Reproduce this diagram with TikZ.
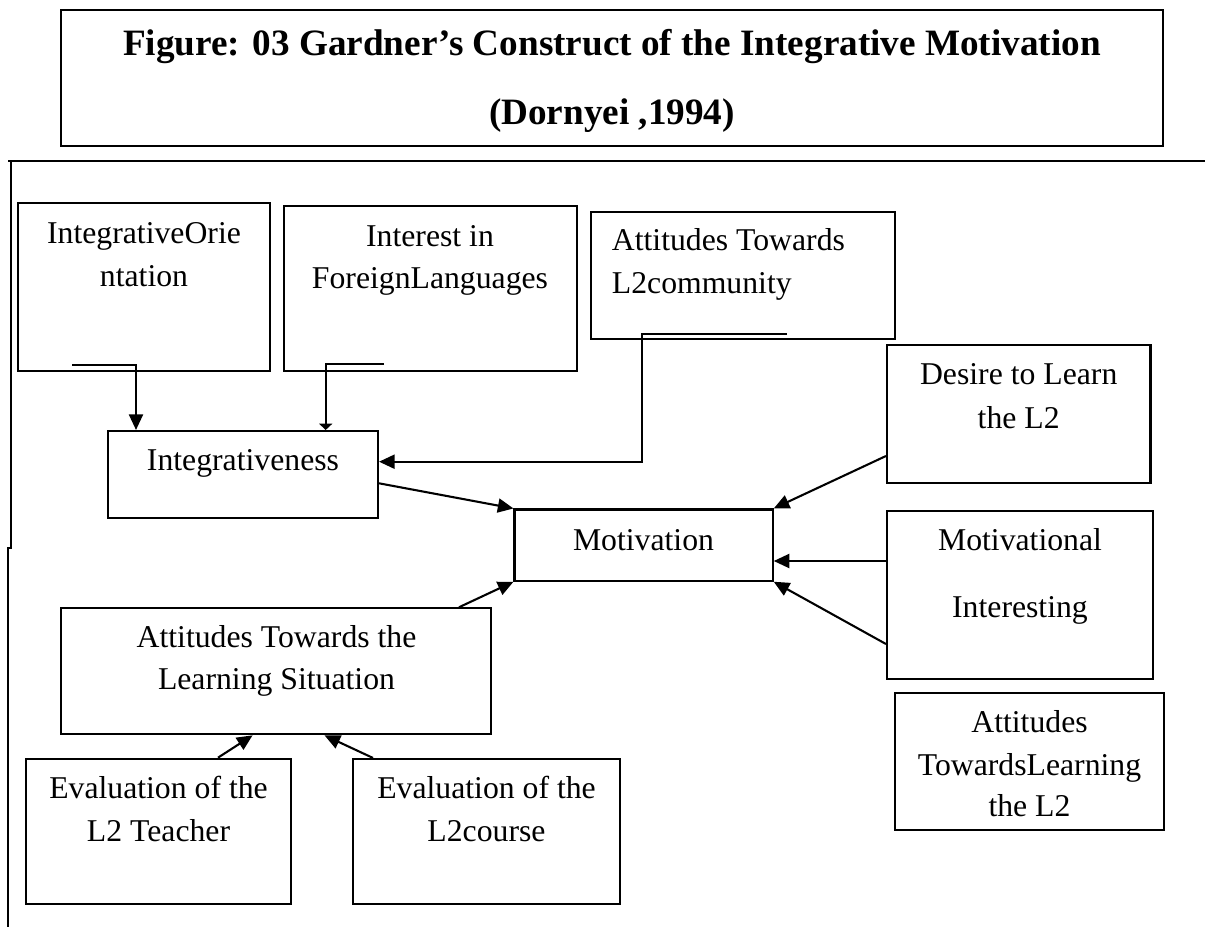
\documentclass[tikz,border=0pt]{standalone}
\usepackage{fontspec}
\setmainfont{Liberation Serif}
\usetikzlibrary{arrows.meta,fit,calc}
\tikzset{
  boxnode/.style={draw, line width=0.8pt, rectangle, inner sep=0pt, minimum size=0pt},
  titlebox/.style={boxnode, line width=0.9pt},
  txt/.style={inner sep=0pt, anchor=base, font=\fontsize{12.2}{14}\selectfont},
  txtl/.style={txt, anchor=base west},
  ttl/.style={inner sep=0pt, anchor=base, font=\fontsize{14.3}{17}\selectfont\bfseries},
  arr/.style={line width=0.8pt, -{Triangle[length=6pt,width=5.4pt]}},
  flatarr/.style={line width=0.8pt, -{Triangle[length=2.4pt,width=5pt]}},
  frame/.style={line width=0.8pt}
}
\begin{document}
\begin{tikzpicture}[x=0.3846pt,y=-0.3846pt]
\useasboundingbox (0,0) rectangle (1205,927);
% title
\node[titlebox, fit={(61,10) (1163,145.7)}] (title) {};
\node[ttl] (title1) at (612,55) {Figure: 03 Gardner’s Construct of the Integrative Motivation};
\node[ttl] (title2) at (612,124) {(Dornyei ,1994)};
% frame lines
\draw[frame] (8.4,160.7) -- (1205,160.7);
\draw[frame] (11,160.7) -- (11,548) -- (8.3,548) -- (8.3,927);
% boxes
\node[boxnode, fit={(18,203.3) (270,371)}] (io) {};
\node[boxnode, fit={(283.6,205.7) (577,371)}] (ifl) {};
\node[boxnode, fit={(591,211.7) (894.6,339.3)}] (atl2) {};
\node[boxnode, fit={(887,345) (1150.5,482.7)}] (desire) {};
\node[boxnode, fit={(108.3,431) (378,518.3)}] (integ) {};
\node[boxnode, fit={(514.5,509.5) (772.7,580.7)}] (motiv) {};
\node[boxnode, fit={(887,511) (1153,679)}] (motint) {};
\node[boxnode, fit={(61.2,608.3) (491.4,734.3)}] (atls) {};
\node[boxnode, fit={(894.7,692.7) (1164,830)}] (attl2) {};
\node[boxnode, fit={(26,758.7) (290.9,904.3)}] (evt) {};
\node[boxnode, fit={(352.7,759) (620,904)}] (evc) {};
% texts
\node[txt] (io1) at (144,243) {IntegrativeOrie};
\node[txt] (io2) at (144,286.7) {ntation};
\node[txt] (ifl1) at (430,246) {Interest in};
\node[txt] (ifl2) at (430,288.3) {ForeignLanguages};
\node[txtl] (atl21) at (611.4,250.7) {Attitudes Towards};
\node[txtl] (atl22) at (611.4,293.3) {L2community};
\node[txt] (des1) at (1018.7,384) {Desire to Learn};
\node[txt] (des2) at (1018.7,428.3) {the L2};
\node[txt] (int1) at (243,470.7) {Integrativeness};
\node[txt] (mot1) at (643.5,550) {Motivation};
\node[txt] (mi1) at (1020,550.5) {Motivational};
\node[txt] (mi2) at (1020,617) {Interesting};
\node[txt] (atls1) at (276.5,647.3) {Attitudes Towards the};
\node[txt] (atls2) at (276.5,689.3) {Learning Situation};
\node[txt] (attl1) at (1029.5,732) {Attitudes};
\node[txt] (attl2t) at (1029.5,775) {TowardsLearning};
\node[txt] (attl3) at (1029.5,816) {the L2};
\node[txt] (evt1) at (158.5,798.3) {Evaluation of the};
\node[txt] (evt2) at (158.5,841.7) {L2 Teacher};
\node[txt] (evc1) at (486.5,798.3) {Evaluation of the};
\node[txt] (evc2) at (486.5,841.7) {L2course};
% connectors
\coordinate (ioa) at (72,365);
\coordinate (iob) at (136,365);
\draw[arr] (ioa) -- (iob) -- (iob |- integ.north);
\coordinate (ifla) at (384,364.3);
\coordinate (iflb) at (325.7,364.3);
\draw[flatarr] (ifla) -- (iflb) -- (iflb |- integ.north);
\coordinate (atla) at (787,334);
\coordinate (atlb) at (642.3,334);
\coordinate (atlc) at (642.3,461.7);
\draw[arr] (atla) -- (atlb) -- (atlc) -- (integ.east |- atlc);
\draw[arr] (integ.east |- 0,483.3) -- (motiv.north west);
\draw[arr] (desire.west |- 0,456) -- (motiv.north east);
\draw[arr] (motint.west |- 0,561) -- (motiv.east |- 0,561);
\draw[arr] (motint.west |- 0,644) -- (motiv.south east);
\draw[arr] (atls.north -| 459,0) -- (motiv.south west);
\draw[arr] (evt.north -| 218,0) -- (atls.south -| 252.6,0);
\draw[arr] (evc.north -| 373,0) -- (atls.south -| 324.5,0);
\end{tikzpicture}
\end{document}
